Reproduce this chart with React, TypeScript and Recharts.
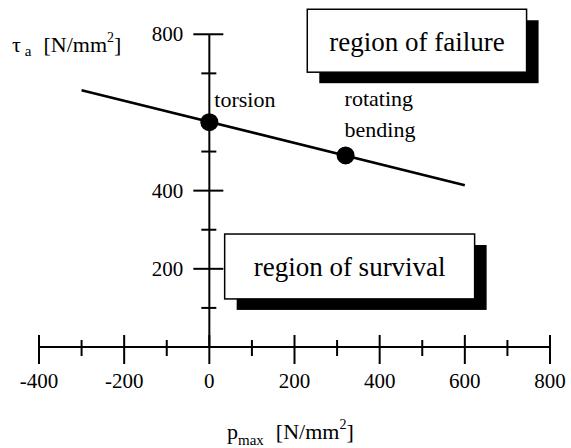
import React from 'react';
import { ComposedChart, XAxis, YAxis, Line, Scatter, ReferenceLine, ReferenceArea, Customized } from 'recharts';

const FONT = '"Liberation Serif", "Times New Roman", serif';

// axis ticks
const xTicks = [-400, -300, -200, -100, 0, 100, 200, 300, 400, 500, 600, 700, 800];
const xLabeled = [-400, -200, 0, 200, 400, 600, 800];
const yTicks = [100, 200, 300, 400, 500, 700, 800];
const yLabeled = [200, 400, 800];

// fatigue limit line
const lineX = [-300, 600];
const lineY = [657, 414];

// load cases
const pointX = [0, 320];
const pointY = [575, 490];
const pointNames = [['torsion'], ['rotating', 'bending']];

const lineData = lineX.map((x, i) => ({ x, y: lineY[i] }));
const pointData = pointX.map((x, i) => ({ x, y: pointY[i], lines: pointNames[i] }));
const yTickData = yTicks.map((y) => ({ x: 0, y }));

const failureBox = { x1: 230, x2: 745, y1: 703, y2: 864, text: 'region of failure' };
const survivalBox = { x1: 36, x2: 623, y1: 123, y2: 289, text: 'region of survival' };

function XTick(props: any) {
  const { x, y, payload } = props;
  const major = xLabeled.includes(payload.value);
  return (
    <g>
      <line x1={x} x2={x} y1={y - (major ? 12 : 7)} y2={y + (major ? 17 : 9)} stroke="#000" strokeWidth={2} />
      {major && (
        <text x={x} y={y + 41} textAnchor="middle" fontSize={21} style={{ fontFamily: FONT }} fill="#000">
          {payload.value}
        </text>
      )}
    </g>
  );
}

function YTickShape(props: any) {
  const { cx, cy, payload } = props;
  const major = yLabeled.includes(payload.y);
  return (
    <g>
      <line x1={cx - (major ? 16 : 8)} x2={cx + (major ? 14 : 7)} y1={cy} y2={cy} stroke="#000" strokeWidth={2} />
      {major && (
        <text x={cx - 26} y={cy + 7} textAnchor="end" fontSize={21} style={{ fontFamily: FONT }} fill="#000">
          {payload.y}
        </text>
      )}
    </g>
  );
}

function PointShape(props: any) {
  const { cx, cy, payload } = props;
  const lines: string[] = payload.lines;
  const two = lines.length > 1;
  return (
    <g>
      <circle cx={cx} cy={cy} r={9} fill="#000" />
      {lines.map((t, i) => (
        <text
          key={t}
          x={two ? cx - 1 : cx + 5}
          y={two ? cy - 49 + i * 31 : cy - 15}
          fontSize={22}
          style={{ fontFamily: FONT }}
          fill="#000"
        >
          {t}
        </text>
      ))}
    </g>
  );
}

function boxShape(text: string) {
  return (props: any) => {
    const { x, y, width, height } = props;
    return (
      <g>
        <rect x={x + 12} y={y + 11} width={width} height={height} fill="#000" />
        <rect x={x} y={y} width={width} height={height} fill="#fff" stroke="#000" strokeWidth={1.5} />
        <text
          x={x + width / 2}
          y={y + height / 2 + 10}
          textAnchor="middle"
          fontSize={27}
          style={{ fontFamily: FONT }}
          fill="#000"
        >
          {text}
        </text>
      </g>
    );
  };
}

function AxisTitles() {
  return (
    <g style={{ fontFamily: FONT }} fill="#000">
      <text x={12} y={52} fontSize={22}>
        τ
        <tspan fontSize={15} dx={4} dy={4}>a</tspan>
        <tspan fontSize={22} dx={12} dy={-4}>[N/mm</tspan>
        <tspan fontSize={14} dy={-10}>2</tspan>
        <tspan fontSize={22} dy={10}>]</tspan>
      </text>
      <text x={227} y={439} fontSize={22}>
        p
        <tspan fontSize={15} dy={6}>max</tspan>
        <tspan fontSize={22} dx={12} dy={-6}>[N/mm</tspan>
        <tspan fontSize={14} dy={-10}>2</tspan>
        <tspan fontSize={22} dy={10}>]</tspan>
      </text>
    </g>
  );
}

export default function App() {
  return (
    <div style={{ background: '#fff', width: 571, height: 448 }}>
      <style>{'body{margin:0}'}</style>
      <ComposedChart width={571} height={448} margin={{ top: 3, right: 21, bottom: 71, left: 39 }}>
        <XAxis
          type="number"
          dataKey="x"
          domain={[-400, 800]}
          ticks={xTicks}
          interval={0}
          tickLine={false}
          tickSize={0}
          tickMargin={0}
          tick={<XTick />}
          axisLine={{ stroke: '#000', strokeWidth: 2 }}
          height={30}
          allowDataOverflow
        />
        <YAxis type="number" dataKey="y" domain={[0, 880]} hide allowDataOverflow />
        <ReferenceArea
          x1={failureBox.x1}
          x2={failureBox.x2}
          y1={failureBox.y1}
          y2={failureBox.y2}
          shape={boxShape(failureBox.text)}
        />
        <ReferenceArea
          x1={survivalBox.x1}
          x2={survivalBox.x2}
          y1={survivalBox.y1}
          y2={survivalBox.y2}
          shape={boxShape(survivalBox.text)}
        />
        <ReferenceLine segment={[{ x: 0, y: 0 }, { x: 0, y: 800 }]} stroke="#000" strokeWidth={2} />
        <Scatter data={yTickData} dataKey="y" shape={<YTickShape />} isAnimationActive={false} />
        <Line
          data={lineData}
          dataKey="y"
          type="linear"
          stroke="#000"
          strokeWidth={2.5}
          dot={false}
          isAnimationActive={false}
        />
        <Scatter data={pointData} dataKey="y" shape={<PointShape />} isAnimationActive={false} />
        <Customized component={AxisTitles} />
      </ComposedChart>
    </div>
  );
}
